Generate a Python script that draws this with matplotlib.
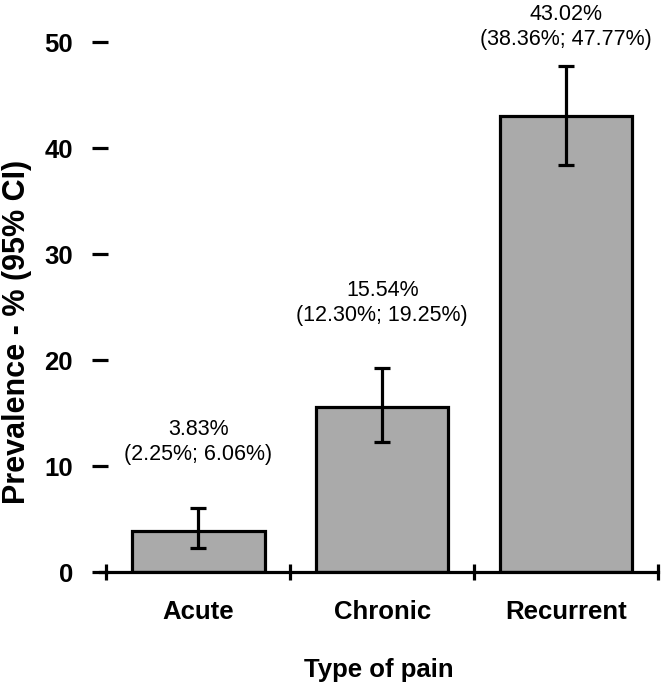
import matplotlib
matplotlib.use("Agg")
import matplotlib.pyplot as plt

categories = ["Acute", "Chronic", "Recurrent"]
prevalence = [3.83, 15.54, 43.02]
ci_low = [2.25, 12.30, 38.36]
ci_high = [6.06, 19.25, 47.77]
y_ticks = [0, 10, 20, 30, 40, 50]

plt.rcParams["font.family"] = ["Liberation Sans", "DejaVu Sans"]

fig = plt.figure(figsize=(6.61, 6.86), dpi=100)
ax = fig.add_axes([100 / 661, 114 / 686, 558 / 661, 530 / 686])

x = list(range(len(categories)))
err = [[p - lo for p, lo in zip(prevalence, ci_low)],
       [hi - p for p, hi in zip(prevalence, ci_high)]]

ax.bar(x, prevalence, width=0.72, color="#aaaaaa", edgecolor="black", linewidth=2.3, zorder=2)
ax.errorbar(x, prevalence, yerr=err, fmt="none", ecolor="black", elinewidth=2.3,
            capsize=5.5, capthick=2.3, zorder=3)

# value + CI labels above each bar
for xi, p, lo, hi in zip(x, prevalence, ci_low, ci_high):
  ty = min(hi + 4.0, 49.2)
  ax.text(xi, ty, f"{p:.2f}%\n({lo:.2f}%; {hi:.2f}%)", ha="center", va="bottom",
          fontsize=15.5, linespacing=1.25, clip_on=False)

ax.set_xlim(-0.535, 2.5)
ax.set_ylim(0, 50)

for side in ["left", "top", "right"]:
  ax.spines[side].set_visible(False)
ax.spines["bottom"].set_linewidth(2.3)

ax.set_yticks(y_ticks)
ax.set_yticklabels([str(t) for t in y_ticks], fontsize=18.5, fontweight="bold")
ax.tick_params(axis="y", direction="inout", length=11, width=2.3, pad=14)

ax.set_xticks(x)
ax.set_xticklabels(categories, fontsize=18.5, fontweight="bold")
ax.tick_params(axis="x", which="major", length=0, pad=20)
ax.set_xticks([-0.5, 0.5, 1.5, 2.5], minor=True)
ax.tick_params(axis="x", which="minor", direction="inout", length=11, width=2.3)

ax.set_xlabel("Type of pain", fontsize=18.5, fontweight="bold")
ax.xaxis.set_label_coords(0.5, -0.162)
ax.set_ylabel("Prevalence - % (95% CI)", fontsize=22, fontweight="bold")
ax.yaxis.set_label_coords(-0.122, 0.453)

fig.savefig("out.png", dpi=100)
